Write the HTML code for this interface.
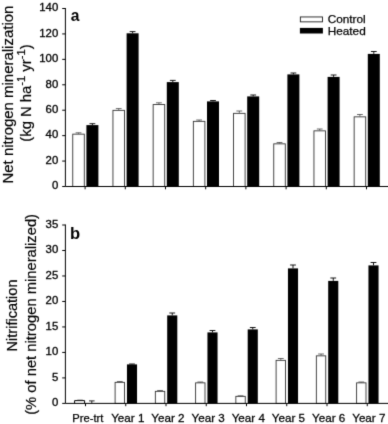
<!DOCTYPE html><html><head><meta charset="utf-8"><title>Figure</title><style>html,body{margin:0;padding:0;background:#fff;overflow:hidden;}body{width:388px;height:424px;overflow:hidden;font-family:"Liberation Sans",sans-serif;}svg{display:block;filter:grayscale(1);}text{font-family:"Liberation Sans",sans-serif;fill:#000;}</style></head><body>
<svg width="400" height="436" viewBox="0 0 400 436">
<rect width="400" height="436" fill="#fff"/>
<defs><filter id="soft" x="0" y="0" width="400" height="436" filterUnits="userSpaceOnUse" color-interpolation-filters="sRGB"><feConvolveMatrix order="3" kernelMatrix="0.015 0.085 0.015 0.085 0.6 0.085 0.015 0.085 0.015" edgeMode="duplicate" preserveAlpha="true"/></filter></defs><g filter="url(#soft)">
<rect width="400" height="436" fill="#fff"/>
<rect x="72.75" y="134.15" width="11.55" height="52.35" fill="#fff" stroke="#333" stroke-width="0.9"/>
<path d="M78.53 133.70V132.80M75.62 132.80H81.43" stroke="#3a3a3a" stroke-width="0.75" fill="none"/>
<rect x="86.40" y="125.10" width="12.00" height="61.40" fill="#000"/>
<path d="M92.40 125.10V123.70M89.50 123.70H95.30" stroke="#0a0a0a" stroke-width="0.95" fill="none"/>
<rect x="112.95" y="110.35" width="11.55" height="76.15" fill="#fff" stroke="#333" stroke-width="0.9"/>
<path d="M118.72 109.90V108.60M115.82 108.60H121.62" stroke="#3a3a3a" stroke-width="0.75" fill="none"/>
<rect x="126.60" y="33.30" width="12.00" height="153.20" fill="#000"/>
<path d="M132.60 33.30V31.60M129.70 31.60H135.50" stroke="#0a0a0a" stroke-width="0.95" fill="none"/>
<rect x="153.15" y="104.55" width="11.55" height="81.95" fill="#fff" stroke="#333" stroke-width="0.9"/>
<path d="M158.93 104.10V102.80M156.03 102.80H161.83" stroke="#3a3a3a" stroke-width="0.75" fill="none"/>
<rect x="166.80" y="82.10" width="12.00" height="104.40" fill="#000"/>
<path d="M172.80 82.10V80.40M169.90 80.40H175.70" stroke="#0a0a0a" stroke-width="0.95" fill="none"/>
<rect x="193.35" y="121.35" width="11.55" height="65.15" fill="#fff" stroke="#333" stroke-width="0.9"/>
<path d="M199.12 120.90V120.00M196.22 120.00H202.03" stroke="#3a3a3a" stroke-width="0.75" fill="none"/>
<rect x="207.00" y="101.40" width="12.00" height="85.10" fill="#000"/>
<path d="M213.00 101.40V100.50M210.10 100.50H215.90" stroke="#0a0a0a" stroke-width="0.95" fill="none"/>
<rect x="233.55" y="113.35" width="11.55" height="73.15" fill="#fff" stroke="#333" stroke-width="0.9"/>
<path d="M239.32 112.90V111.00M236.42 111.00H242.22" stroke="#3a3a3a" stroke-width="0.75" fill="none"/>
<rect x="247.20" y="96.40" width="12.00" height="90.10" fill="#000"/>
<path d="M253.20 96.40V95.00M250.30 95.00H256.10" stroke="#0a0a0a" stroke-width="0.95" fill="none"/>
<rect x="273.75" y="143.85" width="11.55" height="42.65" fill="#fff" stroke="#333" stroke-width="0.9"/>
<path d="M279.52 143.40V142.50M276.62 142.50H282.42" stroke="#3a3a3a" stroke-width="0.75" fill="none"/>
<rect x="287.40" y="74.40" width="12.00" height="112.10" fill="#000"/>
<path d="M293.40 74.40V73.00M290.50 73.00H296.30" stroke="#0a0a0a" stroke-width="0.95" fill="none"/>
<rect x="313.95" y="130.85" width="11.55" height="55.65" fill="#fff" stroke="#333" stroke-width="0.9"/>
<path d="M319.73 130.40V129.00M316.83 129.00H322.62" stroke="#3a3a3a" stroke-width="0.75" fill="none"/>
<rect x="327.60" y="76.90" width="12.00" height="109.60" fill="#000"/>
<path d="M333.60 76.90V75.00M330.70 75.00H336.50" stroke="#0a0a0a" stroke-width="0.95" fill="none"/>
<rect x="354.15" y="116.85" width="11.55" height="69.65" fill="#fff" stroke="#333" stroke-width="0.9"/>
<path d="M359.92 116.40V114.50M357.02 114.50H362.82" stroke="#3a3a3a" stroke-width="0.75" fill="none"/>
<rect x="367.80" y="53.90" width="12.00" height="132.60" fill="#000"/>
<path d="M373.80 53.90V51.50M370.90 51.50H376.70" stroke="#0a0a0a" stroke-width="0.95" fill="none"/>
<path d="M62.20 186.50H65.40" stroke="#000" stroke-width="1"/>
<text transform="translate(58.30 189.29) scale(1.075 1)" font-size="10.6" text-anchor="end" stroke="#000" stroke-width="0.3">0</text>
<path d="M62.20 161.07H65.40" stroke="#000" stroke-width="1"/>
<text transform="translate(58.30 163.87) scale(1.075 1)" font-size="10.6" text-anchor="end" stroke="#000" stroke-width="0.3">20</text>
<path d="M62.20 135.64H65.40" stroke="#000" stroke-width="1"/>
<text transform="translate(58.30 138.44) scale(1.075 1)" font-size="10.6" text-anchor="end" stroke="#000" stroke-width="0.3">40</text>
<path d="M62.20 110.21H65.40" stroke="#000" stroke-width="1"/>
<text transform="translate(58.30 113.01) scale(1.075 1)" font-size="10.6" text-anchor="end" stroke="#000" stroke-width="0.3">60</text>
<path d="M62.20 84.79H65.40" stroke="#000" stroke-width="1"/>
<text transform="translate(58.30 87.58) scale(1.075 1)" font-size="10.6" text-anchor="end" stroke="#000" stroke-width="0.3">80</text>
<path d="M62.20 59.36H65.40" stroke="#000" stroke-width="1"/>
<text transform="translate(58.30 62.15) scale(1.075 1)" font-size="10.6" text-anchor="end" stroke="#000" stroke-width="0.3">100</text>
<path d="M62.20 33.93H65.40" stroke="#000" stroke-width="1"/>
<text transform="translate(58.30 36.72) scale(1.075 1)" font-size="10.6" text-anchor="end" stroke="#000" stroke-width="0.3">120</text>
<path d="M62.20 8.50H65.40" stroke="#000" stroke-width="1"/>
<text transform="translate(58.30 11.29) scale(1.075 1)" font-size="10.6" text-anchor="end" stroke="#000" stroke-width="0.3">140</text>
<path d="M85.10 186.50V189.30" stroke="#000" stroke-width="1"/>
<path d="M125.30 186.50V189.30" stroke="#000" stroke-width="1"/>
<path d="M165.50 186.50V189.30" stroke="#000" stroke-width="1"/>
<path d="M205.70 186.50V189.30" stroke="#000" stroke-width="1"/>
<path d="M245.90 186.50V189.30" stroke="#000" stroke-width="1"/>
<path d="M286.10 186.50V189.30" stroke="#000" stroke-width="1"/>
<path d="M326.30 186.50V189.30" stroke="#000" stroke-width="1"/>
<path d="M366.50 186.50V189.30" stroke="#000" stroke-width="1"/>
<path d="M65.40 8.00V186.50H400" stroke="#000" stroke-width="1" fill="none"/>
<path d="M74.6 403.4V400.6H84.6V403.4" fill="#fff" stroke="#000" stroke-width="1"/>
<path d="M77.3 400.2H82.8" stroke="#222" stroke-width="0.8"/>
<path d="M91.8 403.4V400.9M89 400.9H94.6" stroke="#111" stroke-width="0.9" fill="none"/>
<rect x="115.10" y="382.35" width="9.40" height="21.05" fill="#fff" stroke="#333" stroke-width="0.9"/>
<path d="M119.80 381.90V381.50M116.90 381.50H122.70" stroke="#3a3a3a" stroke-width="0.75" fill="none"/>
<rect x="126.95" y="364.40" width="10.10" height="39.00" fill="#000"/>
<path d="M132.00 364.40V364.00M129.10 364.00H134.90" stroke="#0a0a0a" stroke-width="0.95" fill="none"/>
<rect x="155.35" y="391.35" width="9.40" height="12.05" fill="#fff" stroke="#333" stroke-width="0.9"/>
<path d="M160.05 390.90V390.50M157.15 390.50H162.95" stroke="#3a3a3a" stroke-width="0.75" fill="none"/>
<rect x="167.20" y="315.40" width="10.10" height="88.00" fill="#000"/>
<path d="M172.25 315.40V313.00M169.35 313.00H175.15" stroke="#0a0a0a" stroke-width="0.95" fill="none"/>
<rect x="195.60" y="382.85" width="9.40" height="20.55" fill="#fff" stroke="#333" stroke-width="0.9"/>
<path d="M200.30 382.40V382.00M197.40 382.00H203.20" stroke="#3a3a3a" stroke-width="0.75" fill="none"/>
<rect x="207.45" y="332.40" width="10.10" height="71.00" fill="#000"/>
<path d="M212.50 332.40V330.50M209.60 330.50H215.40" stroke="#0a0a0a" stroke-width="0.95" fill="none"/>
<rect x="235.85" y="396.35" width="9.40" height="7.05" fill="#fff" stroke="#333" stroke-width="0.9"/>
<path d="M240.55 395.90V395.80M237.65 395.80H243.45" stroke="#3a3a3a" stroke-width="0.75" fill="none"/>
<rect x="247.70" y="329.40" width="10.10" height="74.00" fill="#000"/>
<path d="M252.75 329.40V327.50M249.85 327.50H255.65" stroke="#0a0a0a" stroke-width="0.95" fill="none"/>
<rect x="276.10" y="360.35" width="9.40" height="43.05" fill="#fff" stroke="#333" stroke-width="0.9"/>
<path d="M280.80 359.90V358.50M277.90 358.50H283.70" stroke="#3a3a3a" stroke-width="0.75" fill="none"/>
<rect x="287.95" y="268.40" width="10.10" height="135.00" fill="#000"/>
<path d="M293.00 268.40V265.00M290.10 265.00H295.90" stroke="#0a0a0a" stroke-width="0.95" fill="none"/>
<rect x="316.35" y="355.85" width="9.40" height="47.55" fill="#fff" stroke="#333" stroke-width="0.9"/>
<path d="M321.05 355.40V354.00M318.15 354.00H323.95" stroke="#3a3a3a" stroke-width="0.75" fill="none"/>
<rect x="328.20" y="280.90" width="10.10" height="122.50" fill="#000"/>
<path d="M333.25 280.90V278.00M330.35 278.00H336.15" stroke="#0a0a0a" stroke-width="0.95" fill="none"/>
<rect x="356.60" y="382.85" width="9.40" height="20.55" fill="#fff" stroke="#333" stroke-width="0.9"/>
<path d="M361.30 382.40V382.00M358.40 382.00H364.20" stroke="#3a3a3a" stroke-width="0.75" fill="none"/>
<rect x="368.45" y="265.40" width="10.10" height="138.00" fill="#000"/>
<path d="M373.50 265.40V262.50M370.60 262.50H376.40" stroke="#0a0a0a" stroke-width="0.95" fill="none"/>
<path d="M62.20 403.40H65.40" stroke="#000" stroke-width="1"/>
<text transform="translate(58.30 406.19) scale(1.075 1)" font-size="10.6" text-anchor="end" stroke="#000" stroke-width="0.3">0</text>
<path d="M62.20 377.91H65.40" stroke="#000" stroke-width="1"/>
<text transform="translate(58.30 380.71) scale(1.075 1)" font-size="10.6" text-anchor="end" stroke="#000" stroke-width="0.3">5</text>
<path d="M62.20 352.43H65.40" stroke="#000" stroke-width="1"/>
<text transform="translate(58.30 355.22) scale(1.075 1)" font-size="10.6" text-anchor="end" stroke="#000" stroke-width="0.3">10</text>
<path d="M62.20 326.94H65.40" stroke="#000" stroke-width="1"/>
<text transform="translate(58.30 329.74) scale(1.075 1)" font-size="10.6" text-anchor="end" stroke="#000" stroke-width="0.3">15</text>
<path d="M62.20 301.46H65.40" stroke="#000" stroke-width="1"/>
<text transform="translate(58.30 304.25) scale(1.075 1)" font-size="10.6" text-anchor="end" stroke="#000" stroke-width="0.3">20</text>
<path d="M62.20 275.97H65.40" stroke="#000" stroke-width="1"/>
<text transform="translate(58.30 278.77) scale(1.075 1)" font-size="10.6" text-anchor="end" stroke="#000" stroke-width="0.3">25</text>
<path d="M62.20 250.49H65.40" stroke="#000" stroke-width="1"/>
<text transform="translate(58.30 253.28) scale(1.075 1)" font-size="10.6" text-anchor="end" stroke="#000" stroke-width="0.3">30</text>
<path d="M62.20 225.00H65.40" stroke="#000" stroke-width="1"/>
<text transform="translate(58.30 227.79) scale(1.075 1)" font-size="10.6" text-anchor="end" stroke="#000" stroke-width="0.3">35</text>
<path d="M85.50 403.40V406.20" stroke="#000" stroke-width="1"/>
<path d="M125.75 403.40V406.20" stroke="#000" stroke-width="1"/>
<path d="M166.00 403.40V406.20" stroke="#000" stroke-width="1"/>
<path d="M206.25 403.40V406.20" stroke="#000" stroke-width="1"/>
<path d="M246.50 403.40V406.20" stroke="#000" stroke-width="1"/>
<path d="M286.75 403.40V406.20" stroke="#000" stroke-width="1"/>
<path d="M327.00 403.40V406.20" stroke="#000" stroke-width="1"/>
<path d="M367.25 403.40V406.20" stroke="#000" stroke-width="1"/>
<path d="M65.40 224.50V403.40H400" stroke="#000" stroke-width="1" fill="none"/>
<text transform="translate(87.90 421.60) scale(1.0 1)" font-size="11.2" text-anchor="middle" stroke="#000" stroke-width="0.25">Pre-trt</text>
<text transform="translate(127.77 421.60) scale(1.04 1)" font-size="11.2" text-anchor="middle" stroke="#000" stroke-width="0.25">Year 1</text>
<text transform="translate(167.94 421.60) scale(1.04 1)" font-size="11.2" text-anchor="middle" stroke="#000" stroke-width="0.25">Year 2</text>
<text transform="translate(208.11 421.60) scale(1.04 1)" font-size="11.2" text-anchor="middle" stroke="#000" stroke-width="0.25">Year 3</text>
<text transform="translate(248.28 421.60) scale(1.04 1)" font-size="11.2" text-anchor="middle" stroke="#000" stroke-width="0.25">Year 4</text>
<text transform="translate(288.45 421.60) scale(1.04 1)" font-size="11.2" text-anchor="middle" stroke="#000" stroke-width="0.25">Year 5</text>
<text transform="translate(328.62 421.60) scale(1.04 1)" font-size="11.2" text-anchor="middle" stroke="#000" stroke-width="0.25">Year 6</text>
<text transform="translate(368.79 421.60) scale(1.04 1)" font-size="11.2" text-anchor="middle" stroke="#000" stroke-width="0.25">Year 7</text>
<text transform="translate(70.80 20.70) scale(1.0 1)" font-size="15.6" text-anchor="start" font-weight="bold">a</text>
<text transform="translate(69.90 238.50) scale(1.0 1)" font-size="16.6" text-anchor="start" font-weight="bold">b</text>
<rect x="300.35" y="16.95" width="22.1" height="4.9" fill="#fff" stroke="#1a1a1a" stroke-width="0.9"/>
<rect x="299.9" y="27.9" width="23.0" height="5.6" fill="#000"/>
<text transform="translate(327.70 22.70) scale(1.0 1)" font-size="11.8" text-anchor="start" stroke="#000" stroke-width="0.25">Control</text>
<text transform="translate(327.70 34.50) scale(1.0 1)" font-size="11.8" text-anchor="start" stroke="#000" stroke-width="0.25">Heated</text>
<text transform="translate(12.90 94.60) rotate(-90) scale(1.028 1)" font-size="14.55" text-anchor="middle" stroke="#000" stroke-width="0.2">Net nitrogen mineralization</text>
<text transform="translate(31.10 93.05) rotate(-90) scale(1.016 1)" font-size="14.6" text-anchor="middle" stroke="#000" stroke-width="0.2">(kg N ha<tspan dy="-6.3" font-size="11">-1</tspan><tspan dy="6.3"> yr</tspan><tspan dy="-6.3" font-size="11">-1</tspan><tspan dy="6.3">)</tspan></text>
<text transform="translate(17.00 315.50) rotate(-90) scale(1.0 1)" font-size="14.55" text-anchor="middle" stroke="#000" stroke-width="0.2">Nitrification</text>
<text transform="translate(35.50 314.40) rotate(-90) scale(1.0 1)" font-size="14.75" text-anchor="middle" stroke="#000" stroke-width="0.2">(% of net nitrogen mineralized)</text>
</g></svg></body></html>
